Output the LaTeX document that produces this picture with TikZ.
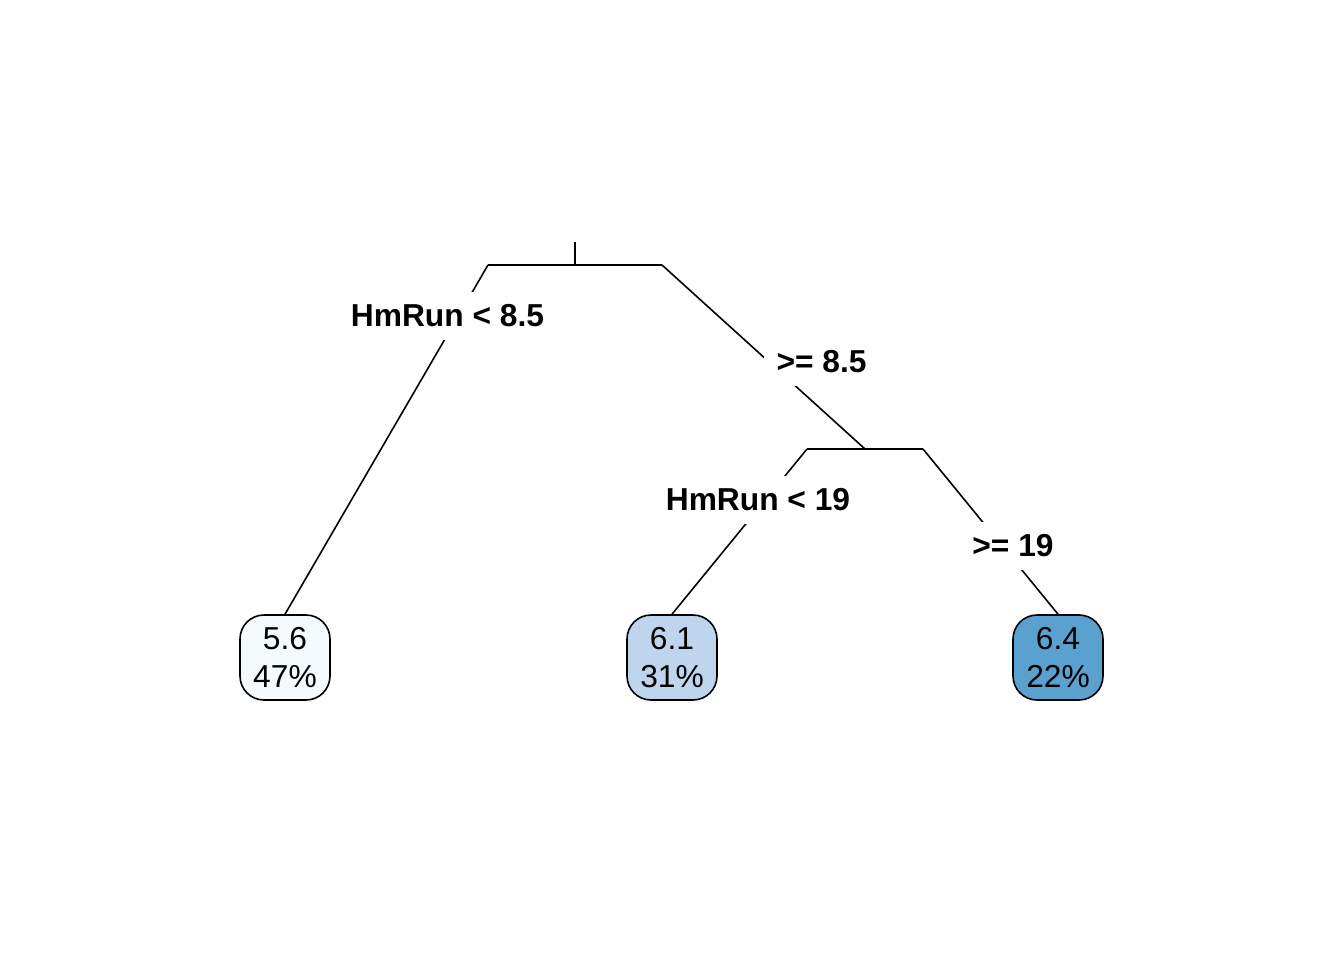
\documentclass[tikz,border=0pt]{standalone}
\usepackage{fontspec}
\setmainfont{Liberation Sans}
\usepackage{xcolor}

\definecolor{leafA}{HTML}{F5FAFE}
\definecolor{leafB}{HTML}{BED5ED}
\definecolor{leafC}{HTML}{5BA1CF}

\begin{document}
\begin{tikzpicture}[x=0.75pt,y=-0.75pt,line width=1.2pt,
        split/.style={fill=white,inner sep=9.75pt,font=\fontsize{23.8}{28}\selectfont\bfseries},
        leaf/.style={draw,rounded corners=18pt,minimum width=67.5pt,minimum height=63.75pt,
                inner sep=0pt,align=center,font=\fontsize{23.8}{28.5}\selectfont}]
        \useasboundingbox (0,0) rectangle (1344,960);

        % draw the leaves
        \node[leaf,fill=leafA] (leaf1) at (285,657.5)  {5.6\\47\%};
        \node[leaf,fill=leafB] (leaf2) at (672,657.5)  {6.1\\31\%};
        \node[leaf,fill=leafC] (leaf3) at (1058,657.5) {6.4\\22\%};

        % the points where the tree splits
        \coordinate (top)   at (575,242);
        \coordinate (root)  at (575,265);
        \coordinate (rootL) at (488,265);
        \coordinate (rootR) at (662,265);
        \coordinate (sub)   at (865,449);
        \coordinate (subL)  at (807,449);
        \coordinate (subR)  at (923,449);

        % draw the branches
        \draw (top) -- (root);
        \draw (rootL) -- (rootR);
        \draw (rootL) -- (leaf1.north);
        \draw (rootR) -- (sub);
        \draw (subL) -- (subR);
        \draw (subL) -- (leaf2.north);
        \draw (subR) -- (leaf3.north);

        % draw the split labels over the branches
        \node[split] (lab1) at (447.5,316) {HmRun < 8.5};
        \node[split] (lab2) at (821.5,362) {>= 8.5};
        \node[split] (lab3) at (758,500)   {HmRun < 19};
        \node[split] (lab4) at (1013,546)  {>= 19};
\end{tikzpicture}
\end{document}
